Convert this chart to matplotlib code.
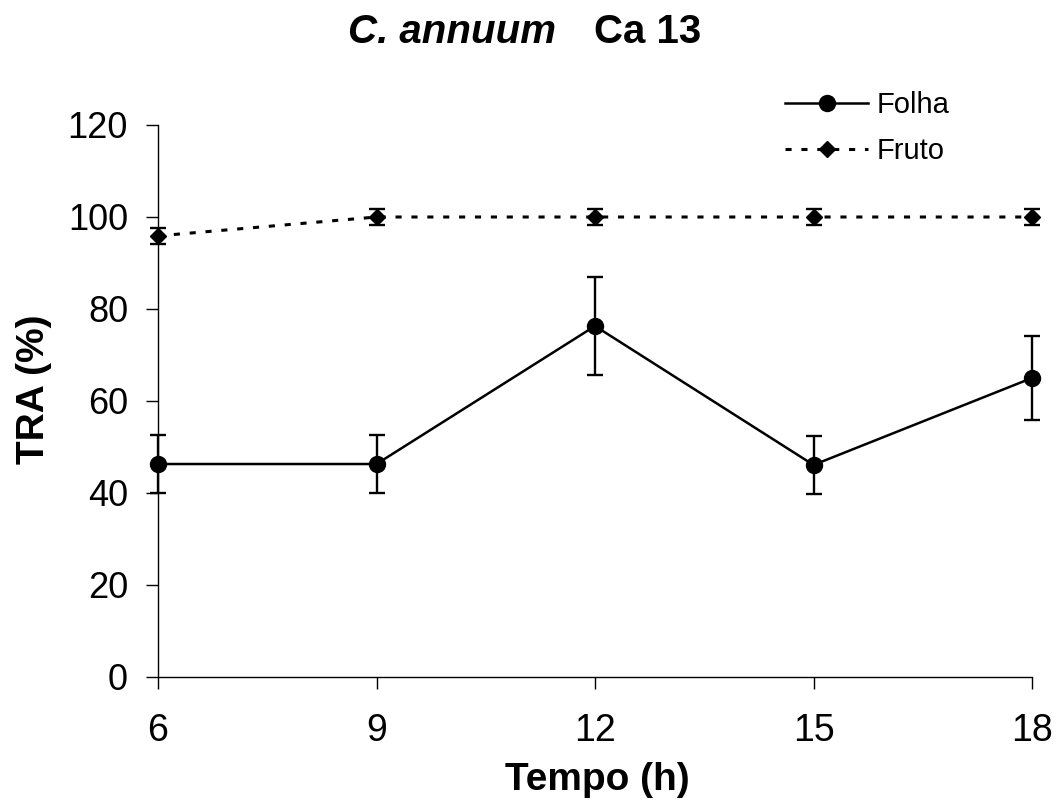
import numpy as np
import matplotlib.pyplot as plt
from matplotlib.lines import Line2D

plt.rcParams['font.family'] = ['Liberation Sans', 'DejaVu Sans']

tempo = [6, 9, 12, 15, 18]
folha = [46.3, 46.3, 76.3, 46.1, 65.0]
folha_err = [6.4, 6.4, 10.6, 6.3, 9.1]
fruto = [95.9, 100, 100, 100, 100]
fruto_err = [1.7, 1.7, 1.7, 1.7, 1.7]

W, H = 1060, 807
fig = plt.figure(figsize=(W / 100, H / 100), dpi=100)
ax = fig.add_axes([158 / W, 1 - 677 / H, (1032 - 158) / W, (677 - 125) / H])

fruto_ls = (0, (2.0, 3.2))
ax.errorbar(tempo, folha, yerr=folha_err, color='black', lw=1.8, marker='o',
            markersize=11.5, capsize=6, capthick=1.7, elinewidth=1.7,
            clip_on=False, zorder=3)
ax.errorbar(tempo, fruto, yerr=fruto_err, color='black', lw=2.2, ls=fruto_ls,
            marker='D', markersize=8.5, capsize=6, capthick=1.7, elinewidth=1.7,
            clip_on=False, zorder=3)

ax.set_xlim(6, 18)
ax.set_ylim(0, 120)
ax.set_xticks(tempo)
ax.set_yticks(np.arange(0, 121, 20))
ax.spines['top'].set_visible(False)
ax.spines['right'].set_visible(False)
for s in ['left', 'bottom']:
    ax.spines[s].set_linewidth(1.0)
ax.tick_params(axis='both', direction='out', length=8.6, width=1.0)
ax.tick_params(axis='x', labelsize=27, pad=17)
ax.tick_params(axis='y', labelsize=26, pad=13)

# axis titles
fig.text(597 / W, 1 - 790 / H, 'Tempo (h)', fontsize=28, fontweight='bold',
         ha='center', va='baseline')
fig.text(34 / W, 1 - 389 / H, 'TRA (%)', fontsize=28, fontweight='bold',
         rotation=90, ha='center', va='center')

fig.text(348 / W, 1 - 43 / H, 'C. annuum', fontsize=29, fontweight='bold',
         fontstyle='italic', ha='left', va='baseline')
fig.text(594 / W, 1 - 43 / H, 'Ca 13', fontsize=29, fontweight='bold',
         ha='left', va='baseline')

handles = [
    Line2D([], [], color='black', lw=1.8, marker='o', markersize=11.5),
    Line2D([], [], color='black', lw=2.2, ls=fruto_ls, marker='D', markersize=8.5),
]
fig.legend(handles, ['Folha', 'Fruto'], loc='upper left',
           bbox_to_anchor=(785 / W, 1 - 91 / H), frameon=False, fontsize=21,
           handlelength=2.85, handletextpad=0.3, labelspacing=0.62,
           borderpad=0, borderaxespad=0)

fig.savefig('out.png', dpi=100)
